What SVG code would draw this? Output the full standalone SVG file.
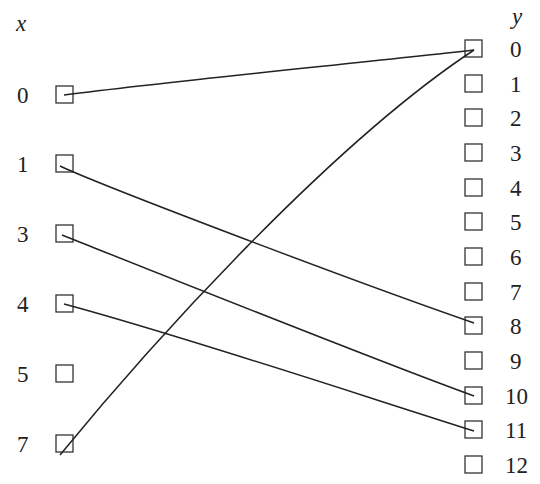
<svg xmlns="http://www.w3.org/2000/svg" width="540" height="484" viewBox="0 0 540 484">
<style>
text{font-family:'Liberation Serif','DejaVu Serif',serif;font-size:23px;fill:#222}
.it{font-style:italic}
.sq{fill:none;stroke:#333;stroke-width:1.3}
.ln{fill:none;stroke:#222;stroke-width:1.5}
</style>
<rect width="540" height="484" fill="#fff"/>
<text class="it" x="16" y="31">x</text>
<text class="it" x="512" y="24">y</text>
<g id="x0"><text x="17" y="103">0</text><rect class="sq" x="56" y="86" width="17" height="17"/></g>
<g id="x1"><text x="17" y="172">1</text><rect class="sq" x="56" y="155" width="17" height="17"/></g>
<g id="x3"><text x="17" y="242">3</text><rect class="sq" x="56" y="225" width="17" height="17"/></g>
<g id="x4"><text x="17" y="312">4</text><rect class="sq" x="56" y="295" width="17" height="17"/></g>
<g id="x5"><text x="17" y="382">5</text><rect class="sq" x="56" y="365" width="17" height="17"/></g>
<g id="x7"><text x="17" y="452">7</text><rect class="sq" x="56" y="435" width="17" height="17"/></g>
<g id="y0"><rect class="sq" x="465" y="40" width="17" height="17"/><text x="510" y="57">0</text></g>
<g id="y1"><rect class="sq" x="465" y="75" width="17" height="17"/><text x="510" y="92">1</text></g>
<g id="y2"><rect class="sq" x="465" y="109" width="17" height="17"/><text x="510" y="126">2</text></g>
<g id="y3"><rect class="sq" x="465" y="144" width="17" height="17"/><text x="510" y="161">3</text></g>
<g id="y4"><rect class="sq" x="465" y="179" width="17" height="17"/><text x="510" y="196">4</text></g>
<g id="y5"><rect class="sq" x="465" y="213" width="17" height="17"/><text x="510" y="230">5</text></g>
<g id="y6"><rect class="sq" x="465" y="248" width="17" height="17"/><text x="510" y="265">6</text></g>
<g id="y7"><rect class="sq" x="465" y="283" width="17" height="17"/><text x="510" y="300">7</text></g>
<g id="y8"><rect class="sq" x="465" y="317" width="17" height="17"/><text x="510" y="334">8</text></g>
<g id="y9"><rect class="sq" x="465" y="352" width="17" height="17"/><text x="510" y="369">9</text></g>
<g id="y10"><rect class="sq" x="465" y="387" width="17" height="17"/><text x="505" y="404">10</text></g>
<g id="y11"><rect class="sq" x="465" y="421" width="17" height="17"/><text x="505" y="438">11</text></g>
<g id="y12"><rect class="sq" x="465" y="456" width="17" height="17"/><text x="505" y="473">12</text></g>
<g id="connectors">
<path class="ln" d="M 64 95 C 180 80, 350 64, 474 50"/>
<path class="ln" d="M 60 166 C 100 185, 350 280, 474 323"/>
<path class="ln" d="M 62 235 C 150 270, 380 362, 474 396"/>
<path class="ln" d="M 64 304 C 180 335, 360 395, 474 431"/>
<path class="ln" d="M 60 455 C 150 345, 330 145, 474 50"/>
</g>
</svg>
